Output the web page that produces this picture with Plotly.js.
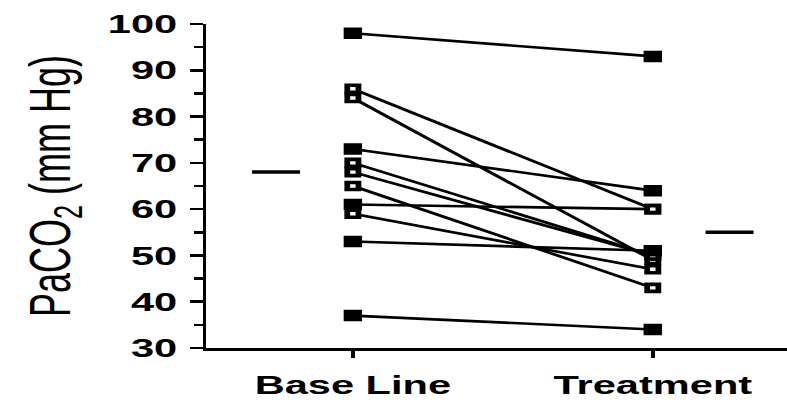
<!DOCTYPE html>
<html>
<head>
<meta charset="utf-8">
<script src="https://cdn.plot.ly/plotly-3.0.1.min.js"></script>
<style>
  html, body { margin: 0; padding: 0; background: #fff; overflow: hidden; }
  #wrap { width: 787px; height: 405px; overflow: hidden; }
  #plot { width: 492px; height: 405px; transform: scaleX(1.5996); transform-origin: 0 0; }
</style>
</head>
<body>
<div id="wrap"><div id="plot"></div></div>
<script>
// ---- data ----
const categories = ['Base Line', 'Treatment'];
const baseline   = [98, 86, 84, 73, 70, 68, 65, 61, 59, 53, 37];
const treatment  = [93, 60, 49, 64, 50, 50, 43, 60, 47, 51, 34];
const baseFilled  = [1, 0, 0, 1, 0, 0, 0, 1, 0, 1, 1];
const treatFilled = [1, 0, 0, 1, 0, 0, 0, 0, 0, 1, 1];
const means = [68, 55];

// ---- styling ----
const FONT = 'Liberation Sans, Arial, Helvetica, sans-serif';
const meanOffset = [-0.256, 0.256];
const meanHalf = 0.08;

const traces = baseline.map((b, i) => {
  const filled = [baseFilled[i], treatFilled[i]];
  return {
    type: 'scatter',
    mode: 'lines+markers',
    x: [0, 1],
    y: [b, treatment[i]],
    line: { color: 'rgb(0,0,0)', width: 2.6 },
    opacity: 1,
    marker: {
      symbol: 'square',
      opacity: 1,
      size: filled.map(f => f ? 10 : 7),
      color: filled.map(f => f ? 'rgb(0,0,0)' : 'rgb(255,255,255)'),
      line: { color: 'rgb(0,0,0)', width: filled.map(f => f ? 1.5 : 3.6) }
    },
    hoverinfo: 'skip',
    showlegend: false
  };
});

const shapes = means.map((m, i) => ({
  type: 'line', xref: 'x', yref: 'y',
  x0: i + meanOffset[i] - meanHalf, x1: i + meanOffset[i] + meanHalf,
  y0: m, y1: m,
  line: { color: '#000', width: 3.5 }
}));

const layout = {
  width: 492, height: 405,
  margin: { l: 129, r: 0, t: 24, b: 57, pad: 0 },
  paper_bgcolor: '#fff', plot_bgcolor: '#fff',
  showlegend: false,
  font: { family: FONT, color: '#000' },
  xaxis: {
    range: [-0.4885, 1.4475],
    tickvals: [0, 1], ticktext: categories,
    ticks: 'outside', ticklen: 7, tickwidth: 2.5, tickcolor: '#000',
    showline: true, linewidth: 2.5, linecolor: '#000',
    showgrid: false, zeroline: false,
    tickfont: { family: FONT, size: 26, color: '#000', weight: 'bold' },
    ticklabelstandoff: 5
  },
  yaxis: {
    range: [30, 100],
    tick0: 30, dtick: 10,
    ticks: 'outside', ticklen: 8, tickwidth: 2.5, tickcolor: '#000',
    minor: { tick0: 30, dtick: 5, ticks: 'outside', ticklen: 6, tickwidth: 2.5, tickcolor: '#000', showgrid: false },
    showline: true, linewidth: 2, linecolor: '#000',
    showgrid: false, zeroline: false,
    tickfont: { family: FONT, size: 26, color: '#000', weight: 'bold' },
    ticklabelstandoff: 3,
    title: { text: 'PaCO<sub>2</sub> (mm Hg)', font: { family: FONT, size: 36, color: '#000' }, standoff: 12 }
  },
  shapes: shapes
};

Plotly.newPlot('plot', traces, layout, { displayModeBar: false, staticPlot: true });
</script>
</body>
</html>
